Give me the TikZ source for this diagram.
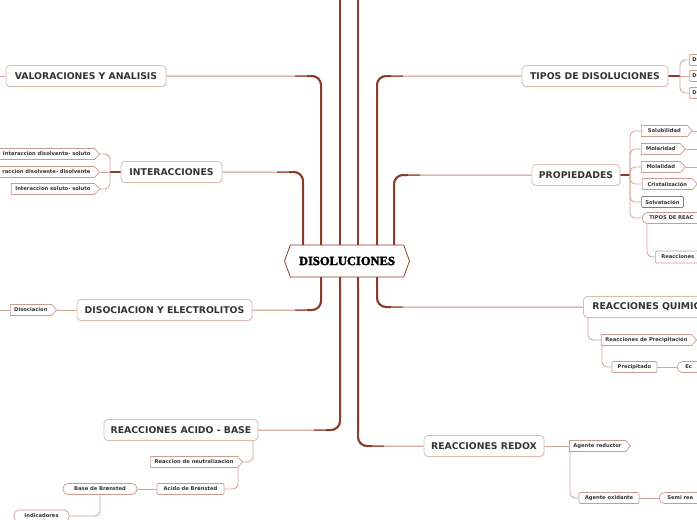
\documentclass[tikz,border=0pt]{standalone}
\usepackage{fontspec}
\setmainfont{DejaVu Sans}
\newfontfamily\titlefont{Liberation Serif}[FakeBold=2.5]
\usetikzlibrary{shapes.symbols,shadows,calc}
\definecolor{trunk}{HTML}{8B3A2B}
\definecolor{midc}{HTML}{A8604F}
\definecolor{branchc}{HTML}{C8907F}
\definecolor{subc}{HTML}{D2A69C}
\definecolor{mainedge}{HTML}{D8BCB6}
\definecolor{subedge}{HTML}{C99C92}
\definecolor{txt}{HTML}{333333}
\pgfdeclarelayer{bg}
\pgfsetlayers{bg,main}
\tikzset{
  mainbox/.style={draw=mainedge, line width=0.8pt, fill=white, rounded corners=4pt, minimum height=21pt, inner sep=0pt, text=txt, font=\bfseries\fontsize{9.3}{10}\selectfont, drop shadow={shadow xshift=0.5pt, shadow yshift=-0.8pt, opacity=0.18}},
  subbox/.style={draw=subedge, line width=0.7pt, fill=white, minimum height=11pt, inner ysep=0pt, inner xsep=4pt, text=txt, font=\bfseries\fontsize{5.2}{6}\selectfont},
  tipbox/.style={subbox, signal, signal to=east, signal pointer angle=95},
  roundbox/.style={subbox, rounded corners=5pt},
  sqbox/.style={subbox, rounded corners=1.2pt},
  hub/.style={signal, signal to=east and west, signal pointer angle=140, draw=trunk, line width=0.8pt, fill=white, minimum width=125pt, minimum height=32pt, inner sep=0pt, font=\titlefont\bfseries\fontsize{12.5}{13}\selectfont},
  trunkline/.style={draw=trunk, line width=2pt, rounded corners=9pt},
  midline/.style={draw=midc, line width=1.5pt, rounded corners=9pt},
  branchline/.style={draw=branchc, line width=1pt, rounded corners=9pt},
  subline/.style={draw=subc, line width=0.9pt, rounded corners=5pt},
  linkline/.style={draw=trunk, line width=1.3pt},
}
\begin{document}
\begin{tikzpicture}[x=1pt,y=-1pt]
\useasboundingbox (0,0) rectangle (697,520);

% trunk x positions
\coordinate (xA) at (321,0);
\coordinate (xB) at (303,0);
\coordinate (xC) at (340,0);
\coordinate (xD) at (358,0);
\coordinate (xE) at (377,0);
\coordinate (xF) at (394,0);
\coordinate (topC) at (340,-5);
\coordinate (topD) at (358,-5);

% hub
\node[hub] (c) at (347,261) {DISOLUCIONES};

% main topics
\node[mainbox, minimum width=160pt] (val) at (86,76) {VALORACIONES Y ANALISIS};
\node[mainbox, minimum width=101pt] (inter) at (171.5,172) {INTERACCIONES};
\node[mainbox, minimum width=175pt] (diso) at (164.5,310) {DISOCIACION Y ELECTROLITOS};
\node[mainbox, minimum width=154pt] (acido) at (181,430) {REACCIONES ACIDO - BASE};
\node[mainbox, minimum width=120pt] (redox) at (484,446) {REACCIONES REDOX};
\node[mainbox, minimum width=146pt] (tipos) at (595,76) {TIPOS DE DISOLUCIONES};
\node[mainbox, minimum width=88pt] (prop) at (576,175) {PROPIEDADES};
\node[mainbox, anchor=west, inner xsep=9pt, text width=140pt, align=left] (quim) at (583,307) {REACCIONES QUIMIC};

% INTERACCIONES children
\node[tipbox, anchor=east] (i1) at (100,154) {Interaccion disolvente- soluto};
\node[tipbox, anchor=east, text width=120pt, align=right] (i2) at (100,172) {raccion disolvente- disolvente};
\node[tipbox, anchor=east] (i3) at (100,189) {Interaccion soluto- soluto};

% DISOCIACION child
\node[tipbox, anchor=east] (dis1) at (57,310) {Disociacion};

% ACIDO - BASE children
\node[tipbox, anchor=east] (neut) at (243,462) {Reaccion de neutralizacion};
\node[sqbox, minimum width=67pt] (acb) at (190.5,489) {Acido de Brønsted};
\node[roundbox, minimum width=74pt] (bb) at (100,489) {Base de Brønsted};
\node[roundbox, minimum width=55pt, minimum height=12pt] (ind) at (41.5,516) {Indicadores};

% REDOX children
\node[tipbox, anchor=east] (ared) at (631,446) {Agente reductor};
\node[sqbox, minimum width=60pt] (aox) at (609,498) {Agente oxidante};
\node[roundbox, anchor=west, inner xsep=8pt, text width=50pt, align=left] (semi) at (659,498) {Semi rea};

% TIPOS children
\node[sqbox, anchor=west, text width=20pt, align=left, inner xsep=3pt] (t1) at (689,60) {D};
\node[sqbox, anchor=west, text width=20pt, align=left, inner xsep=3pt] (t2) at (689,76) {D};
\node[sqbox, anchor=west, text width=20pt, align=left, inner xsep=3pt] (t3) at (689,93) {D};

% PROPIEDADES children
\node[tipbox, anchor=west, minimum width=51pt] (sol) at (641,131) {Solubilidad};
\node[tipbox, anchor=west, minimum width=44pt] (mol) at (641,149) {Molaridad};
\node[tipbox, anchor=west, minimum width=44pt] (mla) at (641,167) {Molalidad};
\node[tipbox, anchor=west, minimum width=55pt] (cri) at (642,184) {Cristalización};
\node[sqbox, anchor=west, draw=gray] (solv) at (641,202) {Solvatación};
\node[roundbox, anchor=west, inner xsep=7pt, text width=60pt, align=left] (tdr) at (642,218) {TIPOS DE REAC};
\node[sqbox, anchor=west, inner xsep=6pt, text width=50pt, align=left, minimum height=12pt] (reac) at (655,257) {Reacciones};

% REACCIONES QUIMICAS children
\node[tipbox, anchor=east] (prec) at (697,340) {Reacciones de Precipitación};
\node[sqbox, minimum width=45pt] (ppt) at (634.5,367) {Precipitado};
\node[roundbox, anchor=west, inner xsep=8pt, text width=30pt, align=left] (ec) at (677,367) {Ec};

% free ends
\coordinate (valx) at (-5,76);
\coordinate (disx) at (-5,310);
\coordinate (solx) at (705,131);
\coordinate (molx) at (705,149);
\coordinate (mlax) at (705,167);
% brackets
\coordinate (bI) at (110,172);
\coordinate (bT) at (680,76);
\coordinate (bP) at (630,175);
\coordinate (xN) at (238,0);
\coordinate (xAB) at (253,0);
\coordinate (xBB) at (100,0);
\coordinate (xAR) at (570,0);
\coordinate (xTR) at (647,0);
\coordinate (xQ) at (588,0);
\coordinate (xPR) at (602,0);

\begin{pgfonlayer}{bg}
\fill[white] (0,0) rectangle (697,520);
% main branches: light thin full, medium, then dark thick near trunk
\foreach \tx/\nd/\an/\sg in {xA/val/east/-1, xA/diso/east/-1, xB/inter/east/-1, xC/acido/east/-1, xD/redox/west/1, xE/tipos/west/1, xE/quim/west/1, xF/prop/west/1}{
  \draw[branchline] (c.center -| \tx) |- (\nd.\an);
  \draw[midline] (c.center -| \tx) |- ($(\tx |- \nd.\an)+(\sg*26pt,0)$);
  \draw[trunkline] (c.center -| \tx) |- ($(\tx |- \nd.\an)+(\sg*14pt,0)$);
}
\draw[trunkline] (c.center -| xC) -- (topC);
\draw[trunkline] (c.center -| xD) -- (topD);

% INTERACCIONES
\draw[linkline] (inter.west) -- (bI);
\draw[subline] (bI) |- (i1.east);
\draw[subline] (bI) -- (i2.east);
\draw[subline] (bI) |- (i3.east);
% VALORACIONES continuation
\draw[subline] (val.west) -- (valx);
% DISOCIACION
\draw[subline] (diso.west) -- (dis1.east);
\draw[subline] (dis1.west) -- (disx);
% ACIDO - BASE
\draw[subline] (acido.south -| xAB) |- (neut.east);
\draw[subline] (neut.south -| xN) |- (acb.east);
\draw[subline] (acb.west) -- (bb.east);
\draw[subline] (bb.south -| xBB) |- (ind.east);
% REDOX
\draw[subline] (redox.east) -- (ared.west);
\draw[subline] (ared.south -| xAR) |- (aox.west);
\draw[subline] (aox.east) -- (semi.west);
% TIPOS
\draw[linkline] (tipos.east) -- (bT);
\draw[subline] (bT) |- (t1.west);
\draw[subline] (bT) -- (t2.west);
\draw[subline] (bT) |- (t3.west);
% PROPIEDADES
\draw[linkline] (prop.east) -- (bP);
\draw[subline] (bP) |- (sol.west);
\draw[subline] (bP) |- (mol.west);
\draw[subline] (bP) |- (mla.west);
\draw[subline] (bP) |- (cri.west);
\draw[subline] (bP) |- (solv.west);
\draw[subline] (bP) |- (tdr.west);
\draw[subline] (sol.east) -- (solx);
\draw[subline] (mol.east) -- (molx);
\draw[subline] (mla.east) -- (mlax);
\draw[subline] (tdr.south -| xTR) |- (reac.west);
% REACCIONES QUIMICAS
\draw[subline] (quim.south -| xQ) |- (prec.west);
\draw[subline] (prec.south -| xPR) |- (ppt.west);
\draw[subline] (ppt.east) -- (ec.west);
\end{pgfonlayer}
\end{tikzpicture}
\end{document}
